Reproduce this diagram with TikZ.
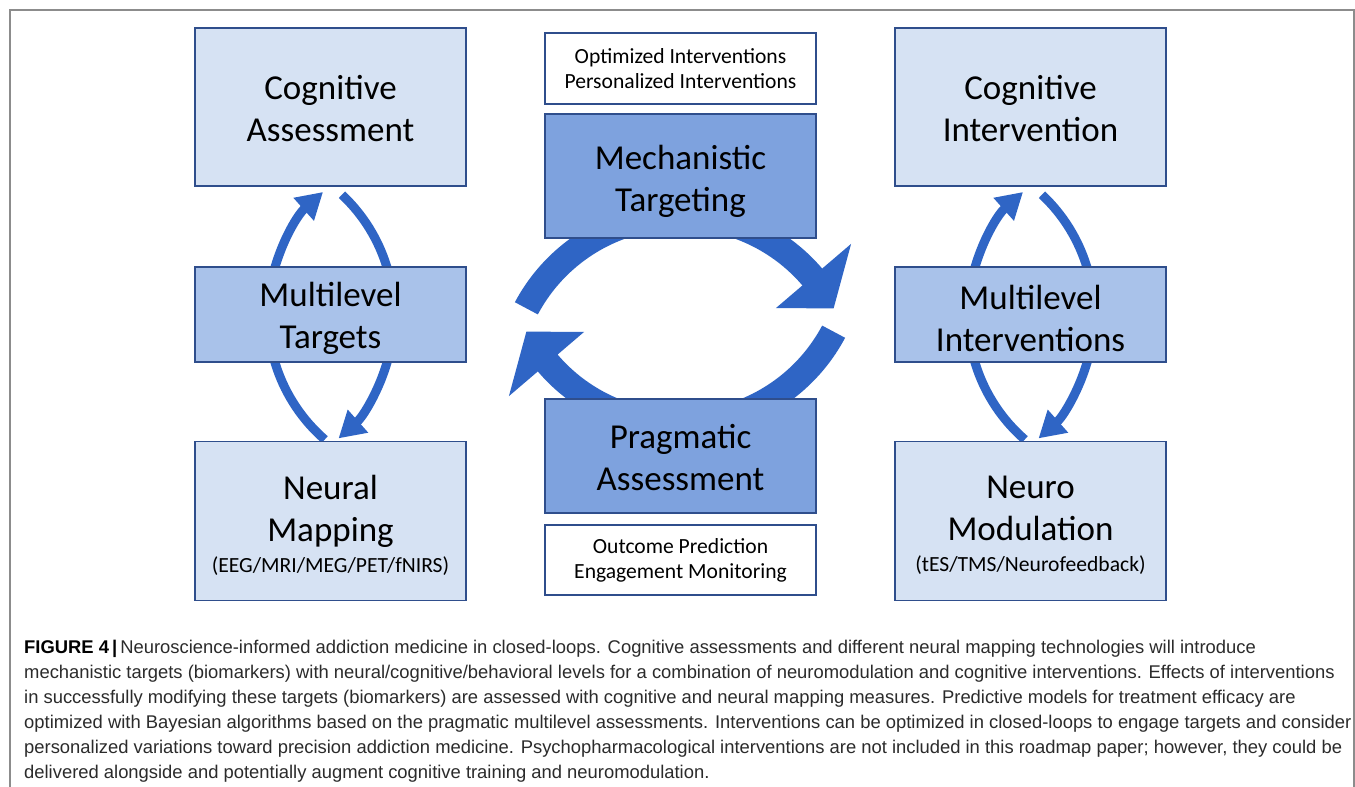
\documentclass[tikz,border=0pt]{standalone}
\usepackage{fontspec}
\setmainfont{Carlito}
\newfontfamily\capfont{Liberation Sans}
\usetikzlibrary{arrows.meta,calc}
\definecolor{arrowblue}{HTML}{2F65C5}
\definecolor{boxedge}{HTML}{2F4E8C}
\definecolor{lightfill}{HTML}{D6E2F3}
\definecolor{midfill}{HTML}{A9C2EA}
\definecolor{darkfill}{HTML}{7EA2DE}
\definecolor{framegray}{HTML}{8C8C8C}
\definecolor{captext}{HTML}{2B2B2B}
\begin{document}
\begin{tikzpicture}[x=1pt,y=1pt,
  box/.style={draw=boxedge, line width=1.6pt, minimum width=271pt, inner sep=0pt},
  bigtext/.style={align=center, inner sep=0pt, font=\fontsize{35}{42}\selectfont},
  smalltext/.style={align=center, inner sep=0pt, font=\fontsize{21.6}{25}\selectfont},
  sarrow/.style={draw=arrowblue, line width=9pt, -{Triangle[length=26pt,width=29pt]}},
  capline/.style={anchor=base west, inner sep=0pt, text=captext, font=\capfont\fontsize{18.4}{25}\selectfont}
]
\useasboundingbox (0,0) rectangle (1355,-787);
\fill[white] (0,0) rectangle (1355,-787);
% frame
\draw[framegray, line width=1.5pt] (10,-787) -- (10,-10) -- (1354,-10) -- (1354,-787);

% arc centres
\coordinate (cA1) at (433,-315);
\coordinate (cB1) at (229,-315);
\coordinate (cA2) at (1133,-315);
\coordinate (cB2) at (929,-315);
\coordinate (C1) at (680,-390);
\coordinate (C2) at (680,-250);

% small loops, left column
\draw[sarrow] ($(cA1)+(229:165)$) arc[start angle=229,end angle=131.8,radius=165];
\draw[sarrow] ($(cB1)+(46.8:165)$) arc[start angle=46.8,end angle=-48.4,radius=165];
% small loops, right column
\draw[sarrow] ($(cA2)+(229:165)$) arc[start angle=229,end angle=131.8,radius=165];
\draw[sarrow] ($(cB2)+(46.8:165)$) arc[start angle=46.8,end angle=-48.4,radius=165];

% big circular arrows
\fill[arrowblue] ($(C1)+(152:187)$) arc[start angle=152,end angle=40.5,radius=187]
  -- ($(C1)+(40.5:225)$) -- ($(C1)+(28:174)$) -- ($(C1)+(40.5:126)$)
  -- ($(C1)+(40.5:161)$) arc[start angle=40.5,end angle=152,radius=161] -- cycle;
\fill[arrowblue] ($(C2)+(-28:187)$) arc[start angle=-28,end angle=-139.5,radius=187]
  -- ($(C2)+(-139.5:225)$) -- ($(C2)+(-152:174)$) -- ($(C2)+(-139.5:126)$)
  -- ($(C2)+(-139.5:161)$) arc[start angle=-139.5,end angle=-28,radius=161] -- cycle;

% left column boxes
\node[box, fill=lightfill, minimum height=158pt] (cogA) at (330.5,-107) {};
\node[box, fill=midfill, minimum height=95pt] (mlT) at (330.5,-314.5) {};
\node[box, fill=lightfill, minimum height=159pt] (neuM) at (330.5,-521) {};
% right column boxes
\node[box, fill=lightfill, minimum height=158pt] (cogI) at (1030.5,-107) {};
\node[box, fill=midfill, minimum height=95pt] (mlI) at (1030.5,-314.5) {};
\node[box, fill=lightfill, minimum height=159pt] (neuMod) at (1030.5,-521) {};
% centre column boxes
\node[box, fill=white, minimum height=71pt] (opt) at (680.5,-68.5) {};
\node[box, fill=darkfill, minimum height=124pt] (mech) at (680.5,-176) {};
\node[box, fill=darkfill, minimum height=114pt] (prag) at (680.5,-456) {};
\node[box, fill=white, minimum height=70pt] (outc) at (680.5,-560) {};

% box texts
\node[bigtext] (tcogA) at ($(cogA)+(0,-2)$) {Cognitive\\Assessment};
\node[bigtext] (tmlT) at ($(mlT)+(0,-4)$) {Multilevel\\Targets};
\node[bigtext] (tneuM) at ($(neuM)+(0,-4)$) {Neural\\Mapping\\[-11pt]{\fontsize{21.6}{25}\selectfont (EEG/MRI/MEG/PET/fNIRS)}};
\node[bigtext] (tcogI) at ($(cogI)+(0,-2)$) {Cognitive\\Intervention};
\node[bigtext] (tmlI) at ($(mlI)+(0,-4)$) {Multilevel\\Interventions};
\node[bigtext] (tneuMod) at ($(neuMod)+(0,-4)$) {Neuro\\Modulation\\[-11pt]{\fontsize{21.6}{25}\selectfont (tES/TMS/Neurofeedback)}};
\node[smalltext] (topt) at (opt) {Optimized Interventions\\Personalized Interventions};
\node[bigtext] (tmech) at ($(mech)+(0,-5)$) {Mechanistic\\Targeting};
\node[bigtext] (tprag) at ($(prag)+(0,-2)$) {Pragmatic\\Assessment};
\node[smalltext] (toutc) at (outc) {Outcome Prediction\\Engagement Monitoring};

% caption
\node[capline] (cap1) at (24,-653) {\textbf{\color{black}FIGURE 4\,|}\,Neuroscience-informed addiction medicine in closed-loops. Cognitive assessments and different neural mapping technologies will introduce};
\node[capline] (cap2) at (24,-678) {mechanistic targets (biomarkers) with neural/cognitive/behavioral levels for a combination of neuromodulation and cognitive interventions. Effects of interventions};
\node[capline] (cap3) at (24,-703) {in successfully modifying these targets (biomarkers) are assessed with cognitive and neural mapping measures. Predictive models for treatment efficacy are};
\node[capline] (cap4) at (24,-728) {optimized with Bayesian algorithms based on the pragmatic multilevel assessments. Interventions can be optimized in closed-loops to engage targets and consider};
\node[capline] (cap5) at (24,-753) {personalized variations toward precision addiction medicine. Psychopharmacological interventions are not included in this roadmap paper; however, they could be};
\node[capline] (cap6) at (24,-778) {delivered alongside and potentially augment cognitive training and neuromodulation.};
\end{tikzpicture}
\end{document}
